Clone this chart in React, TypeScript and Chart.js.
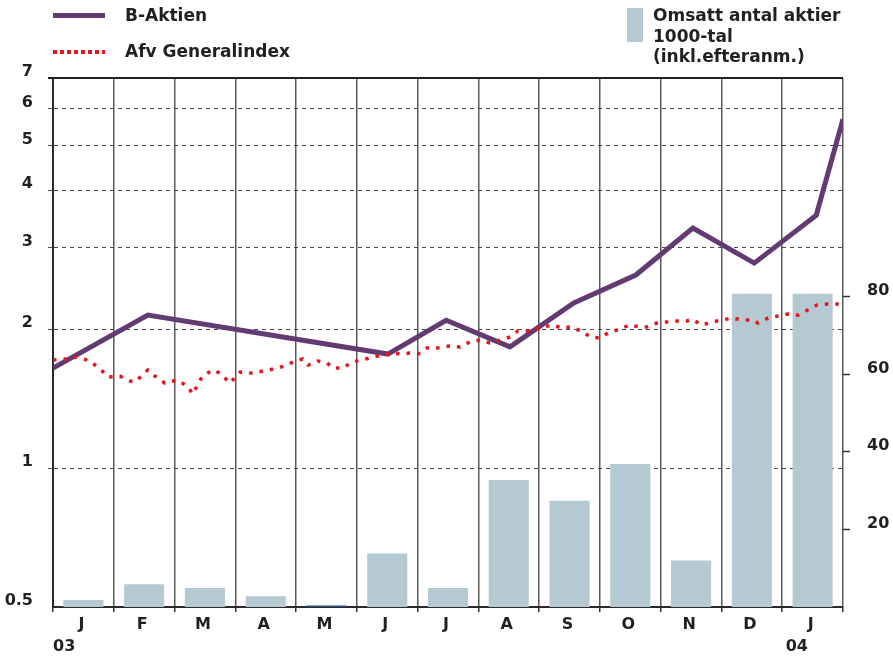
import React, { useEffect, useRef } from "react";
import { Chart, registerables } from "chart.js";

Chart.register(...registerables);

// Month categories (Jan 2003 – Jan 2004)
const months = ["J", "F", "M", "A", "M", "J", "J", "A", "S", "O", "N", "D", "J"];
const yearLabels = ["03", "04"];

// Left (log) axis ticks and right axis ticks
const leftTicks = [0.5, 1, 2, 3, 4, 5, 6, 7];
const rightTicks = [20, 40, 60, 80];

// Omsatt antal aktier, 1000-tal (monthly bars)
const volume = [1.8, 5.9, 4.9, 2.8, 0.4, 13.8, 4.9, 32.8, 27.4, 36.9, 12.0, 80.8, 80.8];

// B-Aktien (position in months from start, value)
const bAktienX = [0, 1.56, 5.51, 6.47, 7.52, 8.57, 9.59, 10.53, 11.54, 12.56, 13.0];
const bAktienValues = [1.647, 2.146, 1.766, 2.09, 1.83, 2.28, 2.62, 3.31, 2.78, 3.53, 5.7];

// Afv Generalindex (position in months from start, value)
const indexX = [
  0.0, 0.2, 0.39, 0.61, 0.81, 0.91, 1.1, 1.27, 1.35, 1.56, 1.68, 1.84, 2.04, 2.21, 2.3,
  2.45, 2.62, 2.75, 2.91, 3.08, 3.27, 3.46, 3.62, 3.82, 3.98, 4.11, 4.2, 4.36, 4.51, 4.61,
  4.77, 4.92, 5.08, 5.27, 5.43, 5.58, 5.74, 5.87, 6.01, 6.15, 6.32, 6.53, 6.7, 6.86, 7.03,
  7.19, 7.36, 7.52, 7.65, 7.85, 8.01, 8.21, 8.38, 8.51, 8.7, 8.84, 9.0, 9.13, 9.33, 9.49,
  9.66, 9.77, 9.94, 10.1, 10.27, 10.43, 10.51, 10.68, 10.84, 11.01, 11.17, 11.35, 11.52,
  11.6, 11.77, 11.93, 12.09, 12.26, 12.42, 12.57, 12.74, 12.9, 13.0,
];
const indexValues = [
  1.715, 1.723, 1.74, 1.706, 1.623, 1.575, 1.582, 1.544, 1.536, 1.631, 1.582, 1.528, 1.551,
  1.506, 1.447, 1.575, 1.631, 1.606, 1.528, 1.614, 1.606, 1.623, 1.639, 1.664, 1.706, 1.723,
  1.672, 1.706, 1.689, 1.647, 1.647, 1.697, 1.715, 1.74, 1.758, 1.775, 1.767, 1.775, 1.767,
  1.82, 1.82, 1.838, 1.829, 1.876, 1.894, 1.866, 1.894, 1.923, 1.981, 1.981, 2.011, 2.041,
  2.011, 2.021, 1.981, 1.923, 1.913, 1.961, 2.001, 2.041, 2.021, 2.021, 2.062, 2.072, 2.082,
  2.082, 2.103, 2.041, 2.072, 2.093, 2.114, 2.093, 2.093, 2.062, 2.114, 2.135, 2.156, 2.145,
  2.2, 2.255, 2.266, 2.266, 2.244,
];

const FONT = "'DejaVu Sans', sans-serif";
const TEXT = "#231f20";
const PURPLE = "#623b73";
const RED = "#e3161e";
const BAR = "#b5c9d2";

const frame = {
  id: "frame",
  afterDraw(chart: any) {
    const { ctx, chartArea, scales } = chart;
    ctx.save();
    ctx.strokeStyle = "#222";
    ctx.lineWidth = 2;
    ctx.beginPath();
    ctx.moveTo(chartArea.left - 5, chartArea.top);
    ctx.lineTo(chartArea.right, chartArea.top);
    ctx.stroke();
    ctx.fillStyle = TEXT;
    ctx.font = `bold 16px ${FONT}`;
    ctx.textBaseline = "middle";
    const xl = scales.xl;
    ctx.textAlign = "left";
    ctx.fillText(yearLabels[0], xl.getPixelForValue(0), chartArea.bottom + 40);
    ctx.textAlign = "center";
    ctx.fillText(yearLabels[1], xl.getPixelForValue(12.24), chartArea.bottom + 40);
    ctx.restore();
  },
};

export default function App() {
  const ref = useRef<HTMLCanvasElement | null>(null);

  useEffect(() => {
    if (!ref.current) return;
    const chart = new Chart(ref.current, {
      type: "bar",
      data: {
        labels: months,
        datasets: [
          {
            type: "line",
            label: "Afv Generalindex",
            data: indexX.map((x, i) => ({ x, y: indexValues[i] })),
            xAxisID: "xl",
            yAxisID: "y",
            borderColor: RED,
            borderWidth: 3.5,
            borderDash: [3.5, 7],
            borderCapStyle: "butt",
            pointRadius: 0,
            tension: 0,
            order: 1,
          } as any,
          {
            type: "line",
            label: "B-Aktien",
            data: bAktienX.map((x, i) => ({ x, y: bAktienValues[i] })),
            xAxisID: "xl",
            yAxisID: "y",
            borderColor: PURPLE,
            borderWidth: 5,
            pointRadius: 0,
            tension: 0,
            borderJoinStyle: "miter",
            order: 2,
          } as any,
          {
            type: "bar",
            label: "Omsatt antal aktier 1000-tal (inkl.efteranm.)",
            data: volume,
            xAxisID: "x",
            yAxisID: "y2",
            backgroundColor: (c: any) => (c.raw < 1 ? "#1f4e79" : BAR),
            barPercentage: 0.66,
            categoryPercentage: 1,
            grouped: false,
            order: 3,
          } as any,
        ],
      },
      options: {
        animation: false,
        responsive: false,
        layout: { padding: { top: 78, left: 0, right: 0, bottom: 0 } },
        plugins: { legend: { display: false }, tooltip: { enabled: false } },
        scales: {
          x: {
            type: "category",
            offset: true,
            grid: {
              offset: true,
              color: "#5a5a5a",
              lineWidth: 1.5,
              drawTicks: true,
              tickLength: 5,
              tickColor: "#333",
              tickWidth: 1.5,
            },
            border: { display: true, color: "#2a2a2a", width: 2 },
            ticks: {
              color: TEXT,
              font: { family: FONT, size: 16, weight: "bold" },
              padding: 3,
              labelOffset: -2,
              maxRotation: 0,
              autoSkip: false,
            },
            afterFit: (s: any) => {
              s.height = 53;
            },
          },
          xl: {
            type: "linear",
            min: 0,
            max: 13,
            offset: false,
            display: false,
            grid: { offset: false },
          },
          y: {
            type: "logarithmic",
            position: "left",
            min: 0.5,
            max: 7,
            afterBuildTicks: (s: any) => {
              s.ticks = leftTicks.map((v) => ({ value: v }));
            },
            ticks: {
              callback: (v: any) => String(v),
              color: TEXT,
              font: { family: FONT, size: 16, weight: "bold" },
              padding: 15,
              labelOffset: -6,
            },
            grid: {
              color: (c: any) =>
                c.tick && (c.tick.value === 0.5 || c.tick.value === 7) ? "rgba(0,0,0,0)" : "#4a4a4a",
              lineWidth: 1,
              tickLength: 5,
              tickColor: (c: any) =>
                c.tick && (c.tick.value === 0.5 || c.tick.value === 7) ? "rgba(0,0,0,0)" : "#4a4a4a",
              tickBorderDash: [4, 4],
            },
            border: { display: true, color: "#2a2a2a", width: 2, dash: [4, 4] },
            afterFit: (s: any) => {
              s.width = 53;
            },
          },
          y2: {
            type: "linear",
            position: "right",
            min: 0,
            max: 136.5,
            afterBuildTicks: (s: any) => {
              s.ticks = rightTicks.map((v) => ({ value: v }));
            },
            ticks: {
              color: TEXT,
              font: { family: FONT, size: 16, weight: "bold" },
              padding: 17,
              labelOffset: -6,
            },
            grid: {
              drawOnChartArea: false,
              tickLength: 7,
              tickColor: "#333",
              tickWidth: 1.5,
            },
            border: { display: false },
            afterFit: (s: any) => {
              s.width = 50;
            },
          },
        },
      } as any,
      plugins: [frame],
    });
    return () => chart.destroy();
  }, []);

  const txt: React.CSSProperties = {
    position: "absolute",
    fontFamily: FONT,
    fontWeight: "bold",
    fontSize: 17,
    color: TEXT,
    lineHeight: "20px",
    whiteSpace: "nowrap",
  };

  return (
    <div style={{ position: "absolute", left: 0, top: 0, width: 893, height: 660, background: "#fff" }}>
      <canvas ref={ref} width={893} height={660} style={{ position: "absolute", left: 0, top: 0 }} />
      <div style={{ position: "absolute", left: 53, top: 13, width: 52, height: 5, background: PURPLE }} />
      <div style={{ ...txt, left: 125, top: 5 }}>B-Aktien</div>
      <div
        style={{
          position: "absolute",
          left: 53,
          top: 50,
          width: 52,
          height: 3.5,
          background: `repeating-linear-gradient(to right, ${RED} 0px, ${RED} 3.5px, transparent 3.5px, transparent 7px)`,
        }}
      />
      <div style={{ ...txt, left: 125, top: 41 }}>Afv Generalindex</div>
      <div style={{ position: "absolute", left: 627, top: 8, width: 16, height: 34, background: BAR }} />
      <div style={{ ...txt, left: 653, top: 5, lineHeight: "20.5px" }}>
        Omsatt antal aktier
        <br />
        1000-tal
        <br />
        (inkl.efteranm.)
      </div>
    </div>
  );
}
